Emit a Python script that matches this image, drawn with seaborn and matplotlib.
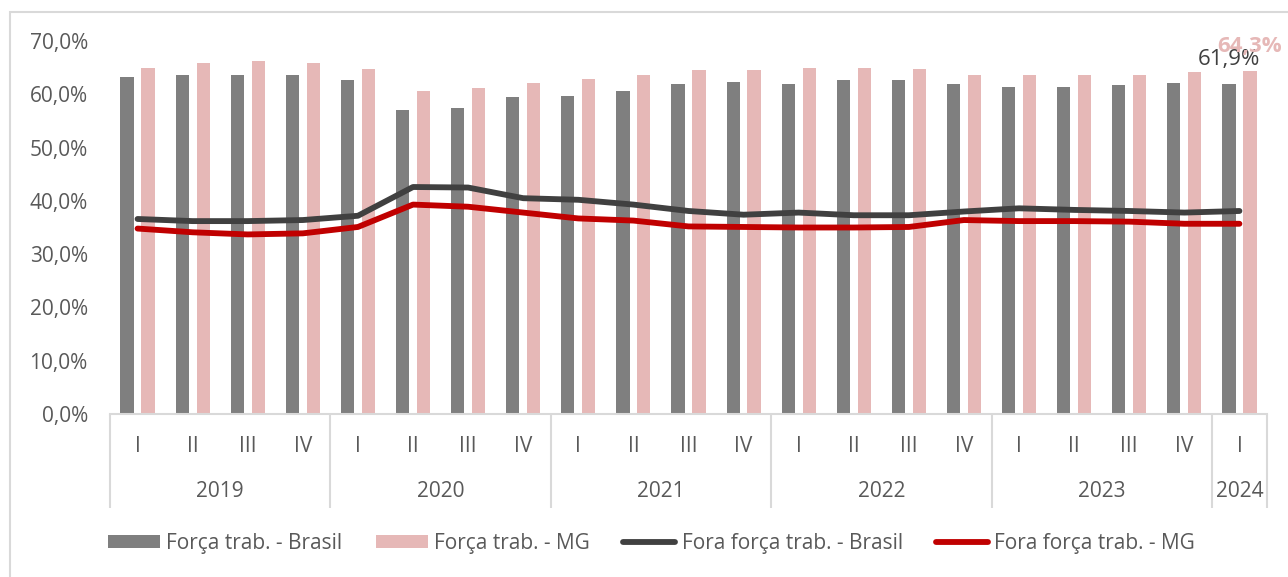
import matplotlib
matplotlib.use("Agg")
import matplotlib.pyplot as plt
import matplotlib.transforms as mtransforms
from matplotlib.patches import Patch, Rectangle
from matplotlib.lines import Line2D
import numpy as np
import pandas as pd
import seaborn as sns

# ---------------- data ----------------
years = ["2019"] * 4 + ["2020"] * 4 + ["2021"] * 4 + ["2022"] * 4 + ["2023"] * 4 + ["2024"]
quarters = ["I", "II", "III", "IV"] * 5 + ["I"]

forca_brasil = [63.3, 63.6, 63.6, 63.6, 62.6, 57.1, 57.5, 59.5, 59.7, 60.7, 61.9, 62.3,
                61.9, 62.6, 62.6, 61.9, 61.4, 61.4, 61.7, 62.2, 61.9]
forca_mg = [65.0, 65.8, 66.2, 65.8, 64.8, 60.7, 61.2, 62.2, 62.9, 63.6, 64.5, 64.5,
            65.0, 65.0, 64.8, 63.6, 63.6, 63.6, 63.6, 64.1, 64.3]
fora_brasil = [36.6, 36.2, 36.2, 36.4, 37.2, 42.6, 42.5, 40.5, 40.2, 39.3, 38.1, 37.4,
               37.8, 37.3, 37.3, 38.0, 38.6, 38.3, 38.1, 37.8, 38.1]
fora_mg = [34.8, 34.1, 33.7, 33.9, 35.1, 39.3, 38.9, 37.8, 36.7, 36.3, 35.2, 35.1,
           35.0, 35.0, 35.1, 36.4, 36.2, 36.2, 36.1, 35.7, 35.7]

series_bars = ["Força trab. - Brasil", "Força trab. - MG"]
series_lines = ["Fora força trab. - Brasil", "Fora força trab. - MG"]
y_ticks = [0, 10, 20, 30, 40, 50, 60, 70]

# ---------------- style ----------------
GRAY = "#7f7f7f"
PINK = "#e6b8b7"
DARK = "#404040"
RED = "#c00000"
TXT = "#595959"
AXC = "#d9d9d9"

sns.set_style("white")
plt.rcParams["font.family"] = ["Open Sans", "DejaVu Sans"]

periods = [f"{y} {q}" for y, q in zip(years, quarters)]
n = len(periods)

df_bars = pd.DataFrame({
    "periodo": periods * 2,
    "serie": [series_bars[0]] * n + [series_bars[1]] * n,
    "valor": forca_brasil + forca_mg,
})
df_lines = pd.DataFrame({
    "periodo": periods * 2,
    "serie": [series_lines[0]] * n + [series_lines[1]] * n,
    "valor": fora_brasil + fora_mg,
})

W, H = 1288, 577
fig = plt.figure(figsize=(W / 100, H / 100), dpi=100)
ax_left, ax_right = 110 / W, 1267 / W
ax_bottom, ax_top = 1 - 414 / H, 1 - 41 / H
ax = fig.add_axes([ax_left, ax_bottom, ax_right - ax_left, ax_top - ax_bottom])

sns.barplot(data=df_bars, x="periodo", y="valor", hue="serie", order=periods,
            hue_order=series_bars, palette=[GRAY, PINK], width=0.76, gap=0.37,
            saturation=1, linewidth=0, errorbar=None, legend=False, ax=ax)
sns.lineplot(data=df_lines, x="periodo", y="valor", hue="serie", hue_order=series_lines,
             palette=[DARK, RED], linewidth=4.2, sort=False, legend=False, ax=ax,
             solid_capstyle="round", solid_joinstyle="round")

ax.set_xlim(-0.5, n - 0.5)
ax.set_ylim(0, 70)
ax.set_yticks(y_ticks)
ax.set_yticklabels([f"{v:.1f}%".replace(".", ",") for v in y_ticks])
ax.tick_params(axis="y", length=0, pad=16, labelsize=15, labelcolor=TXT)
ax.tick_params(axis="x", length=0, labelbottom=False)
ax.set_xlabel("")
ax.set_ylabel("")
for s in ["top", "right", "left"]:
    ax.spines[s].set_visible(False)
ax.spines["bottom"].set_color(AXC)
ax.spines["bottom"].set_linewidth(1.5)
ax.grid(False)

# multi-level category axis
trans = mtransforms.blended_transform_factory(ax.transData, ax.transAxes)
for i, q in enumerate(quarters):
    ax.text(i, -0.088, q, transform=trans, ha="center", va="center",
            fontsize=15, color=TXT)
uniq_years = list(dict.fromkeys(years))
bounds = [-0.5]
for y in uniq_years:
    idx = [i for i, yy in enumerate(years) if yy == y]
    ax.text((idx[0] + idx[-1]) / 2, -0.209, y, transform=trans, ha="center",
            va="center", fontsize=15, color=TXT)
    bounds.append(idx[-1] + 0.5)
for b in bounds:
    ax.plot([b, b], [0, -0.252], transform=trans, color=AXC, lw=1.5,
            clip_on=False, solid_capstyle="butt")

# data labels on last period
last = n - 1
ax.annotate(f"{forca_brasil[last]:.1f}%".replace(".", ","), xy=(last - 0.19, forca_brasil[last]),
            xytext=(0, 18), textcoords="offset points", ha="center", va="center",
            fontsize=16, color=DARK, annotation_clip=False)
ax.annotate(f"{forca_mg[last]:.1f}%".replace(".", ","), xy=(last + 0.19, forca_mg[last]),
            xytext=(0, 18), textcoords="offset points", ha="center", va="center",
            fontsize=16, color=PINK, fontweight="bold", annotation_clip=False)

# legend
handles = [Patch(facecolor=GRAY, edgecolor="none"),
           Patch(facecolor=PINK, edgecolor="none"),
           Line2D([], [], color=DARK, lw=4.2, solid_capstyle="round"),
           Line2D([], [], color=RED, lw=4.2, solid_capstyle="round")]
fig.legend(handles, series_bars + series_lines, loc="center left",
           bbox_to_anchor=(108 / W, 1 - 543 / H), ncol=4, frameon=False,
           fontsize=15, labelcolor=TXT, handlelength=2.5, handleheight=0.6,
           handletextpad=0.3, columnspacing=1.6, borderpad=0, borderaxespad=0)

# outer chart border
fig.add_artist(Rectangle((10 / W, -0.1), 1.2, (H - 12) / H + 0.1, transform=fig.transFigure,
                         fill=False, edgecolor=AXC, lw=1.5, clip_on=False))

fig.savefig("out.png", dpi=100)
